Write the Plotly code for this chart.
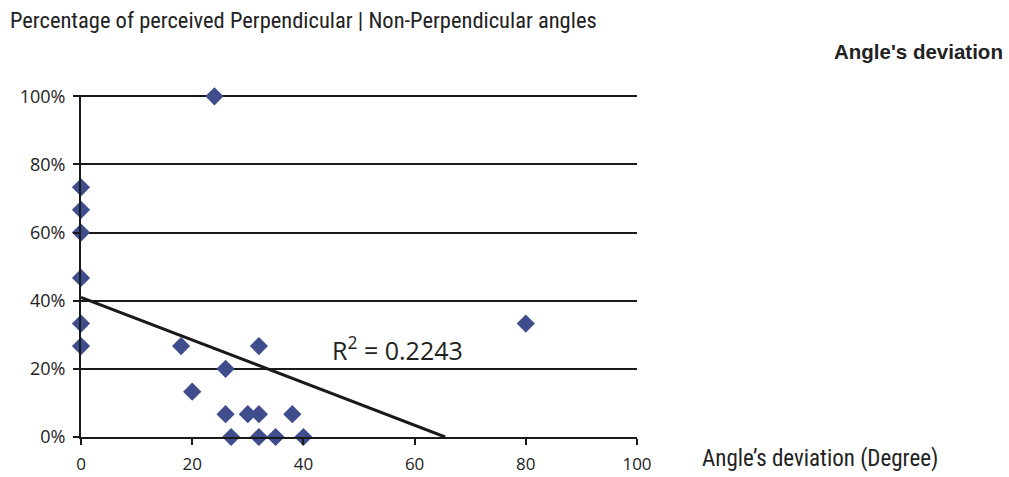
import plotly.graph_objects as go

# Angle deviation (degrees) and share of answers perceived as perpendicular
deviation_deg = [0, 0, 0, 0, 0, 0, 24, 18, 20, 26, 26, 27, 30, 32, 32, 32, 35, 38, 40, 80]
perceived_pct = [0.733, 0.667, 0.60, 0.467, 0.333, 0.267, 1.00, 0.267, 0.133, 0.20,
                 0.067, 0.0, 0.067, 0.067, 0.267, 0.0, 0.0, 0.067, 0.0, 0.333]

# Linear trendline as reported by the spreadsheet
trend_intercept = 0.41
trend_slope = -0.00626
r_squared = 0.2243

x_ticks = [0, 20, 40, 60, 80, 100]
y_ticks = [0, 0.2, 0.4, 0.6, 0.8, 1.0]

trend_x_end = -trend_intercept / trend_slope
trend_x = [0, trend_x_end]
trend_y = [trend_intercept + trend_slope * x for x in trend_x]

fig = go.Figure()

fig.add_trace(go.Scatter(
    x=trend_x, y=trend_y, mode="lines",
    line=dict(color="#1a1a1a", width=3),
    showlegend=False, hoverinfo="skip", cliponaxis=False,
))

fig.add_trace(go.Scatter(
    x=deviation_deg, y=perceived_pct, mode="markers",
    marker=dict(symbol="diamond", size=14, color="#3f4d8c",
                line=dict(width=0)),
    showlegend=False, cliponaxis=False,
))

tick_font = dict(family="'Open Sans', Carlito, sans-serif", size=18, color="#222")

fig.update_xaxes(
    range=[0, 100], tickvals=x_ticks, ticktext=[str(v) for v in x_ticks],
    showgrid=False, zeroline=False, automargin=False,
    showline=True, linecolor="#1a1a1a", linewidth=2,
    ticks="outside", ticklen=6, tickwidth=2, tickcolor="#1a1a1a",
    tickfont=dict(tick_font, size=17), ticklabelstandoff=5,
)
# top of the range sits a hair above 100% so that gridline is still drawn
fig.update_yaxes(
    range=[0, 1.004], tickvals=y_ticks, ticktext=[f"{int(round(v * 100))}%" for v in y_ticks],
    showgrid=True, gridcolor="#1a1a1a", gridwidth=2, zeroline=False, automargin=False,
    showline=True, linecolor="#1a1a1a", linewidth=2,
    ticks="outside", ticklen=6, tickwidth=2, tickcolor="#1a1a1a",
    tickfont=tick_font, ticklabelstandoff=4,
)

narrow = "'Liberation Sans Narrow', 'Arial Narrow', 'Roboto Condensed', sans-serif"
plot_w = 556
plot_h = 342

fig.add_annotation(
    xref="paper", yref="paper", x=(8 - 81) / plot_w, y=1 + (95 - 20) / plot_h,
    xanchor="left", yanchor="middle", showarrow=False,
    text="Percentage of perceived Perpendicular | Non-Perpendicular angles",
    font=dict(family=narrow, size=22.5, color="#222"),
)
fig.add_annotation(
    xref="paper", yref="paper", x=(1005 - 81) / plot_w, y=1 + (95 - 52) / plot_h,
    xanchor="right", yanchor="middle", showarrow=False,
    text="<b>Angle's deviation</b>",
    font=dict(family="'Liberation Sans', Arial, sans-serif", size=20.5, color="#222"),
)
fig.add_annotation(
    xref="paper", yref="paper", x=(700 - 81) / plot_w, y=-(458 - 437) / plot_h,
    xanchor="left", yanchor="middle", showarrow=False,
    text="Angle\u2019s deviation (Degree)",
    font=dict(family=narrow, size=23, color="#222"),
)
fig.add_annotation(
    xref="paper", yref="paper", x=(330 - 81) / plot_w, y=(437 - 348) / plot_h,
    xanchor="left", yanchor="middle", showarrow=False,
    text=f"R<sup>2</sup> = {r_squared:.4f}",
    font=dict(family="'Open Sans', Carlito, sans-serif", size=25, color="#222"),
)

fig.update_layout(
    width=1009, height=477,
    margin=dict(l=81, r=372, t=95, b=40, autoexpand=False),
    paper_bgcolor="white", plot_bgcolor="white",
    showlegend=False,
)

fig.write_html("out.html")
